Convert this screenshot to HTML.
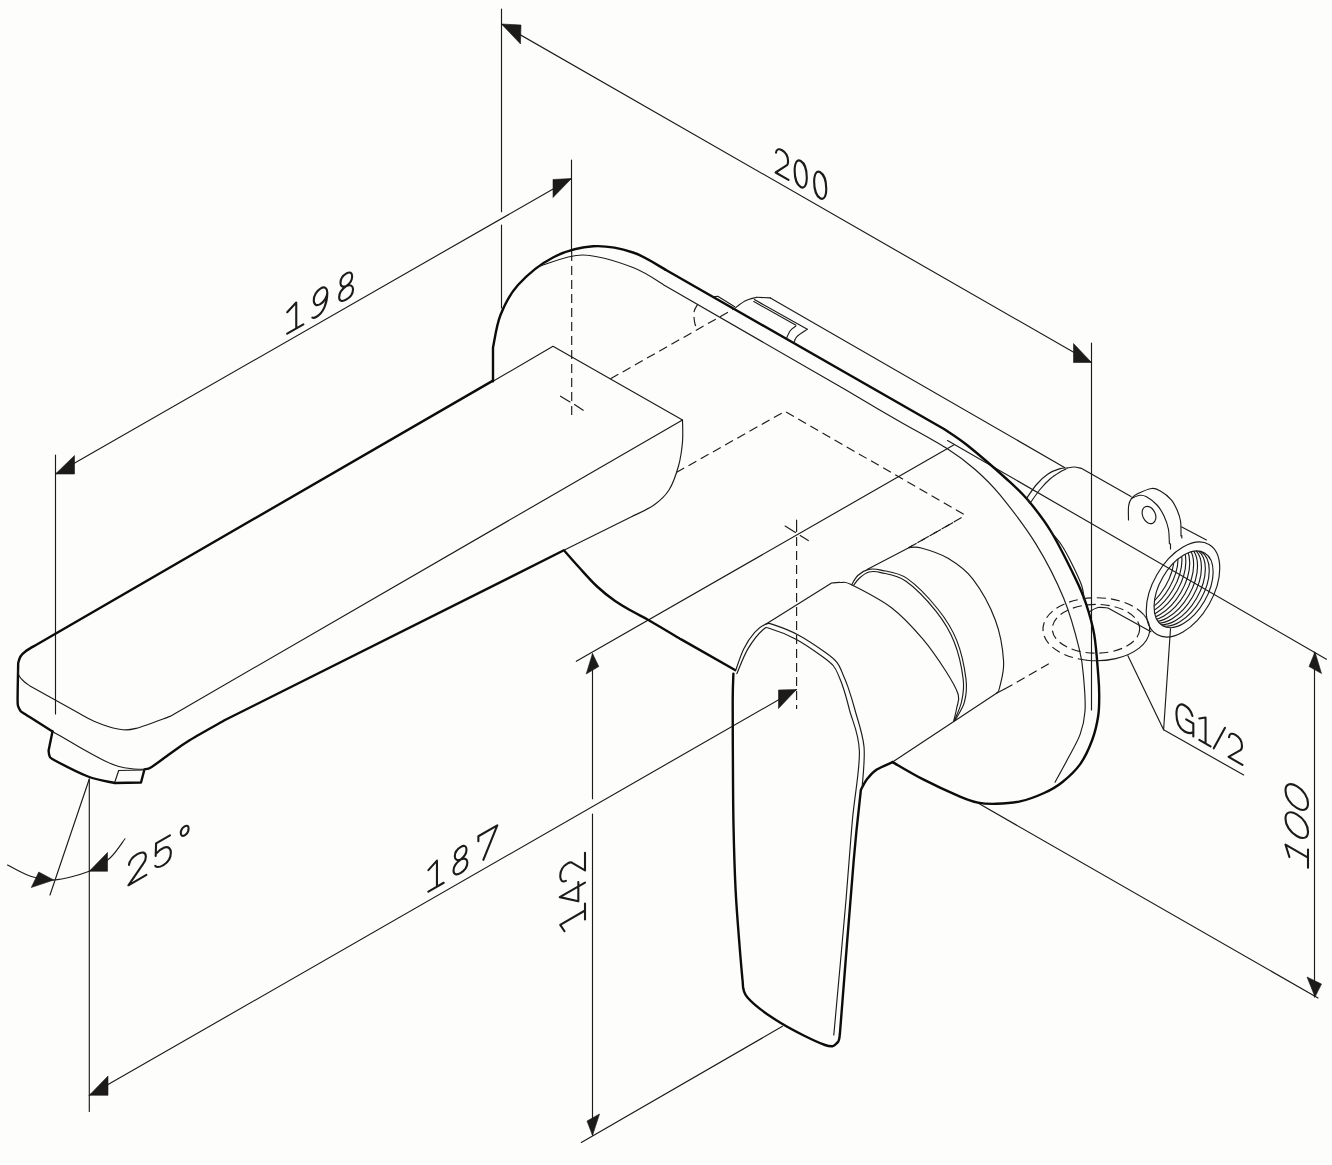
<!DOCTYPE html>
<html><head><meta charset="utf-8"><style>
html,body{margin:0;padding:0;background:#fdfdfb;}
svg{display:block}
.t{fill:none;stroke:#1c1b19;stroke-width:1.15;stroke-linecap:round;stroke-linejoin:round}
.d{fill:none;stroke:#1c1b19;stroke-width:1.15;stroke-dasharray:9 5}
.k{fill:none;stroke:#0c0c0b;stroke-width:2.4;stroke-linecap:round;stroke-linejoin:round}
.f{fill:#1c1b19;stroke:#1c1b19;stroke-width:0.6}
.g{fill:none;stroke:#1c1b19;stroke-width:2.1;stroke-linecap:round;stroke-linejoin:round}
</style></head><body>
<svg width="1332" height="1165" viewBox="0 0 1332 1165">
<path class="t" d="M501.5 9 L501.5 211.7" />
<path class="t" d="M501.5 225 L501.5 308" />
<path class="t" d="M1091.5 343 L1091.5 710" />
<path class="t" d="M501.5 24 L1091.5 362.5" />
<polygon class="f" points="501.5,24 521,25 520.5,44"/>
<polygon class="f" points="1091.5,362.5 1073.5,343.5 1073.5,362.5"/>
<path class="t" d="M571.5 160 L571.5 252" />
<path class="d" d="M571.7 252 L571.7 418" />
<path class="t" d="M55.5 455 L55.5 714" />
<path class="t" d="M55.5 474 L571.5 178.5" />
<polygon class="f" points="55.5,474 74.5,455.5 74.5,474"/>
<polygon class="f" points="571.5,178.5 553,179.5 553,197.5"/>
<path class="t" d="M89.3 779 L89.3 1111.5" />
<path class="t" d="M89.3 1095.3 L796.5 689.5" />
<polygon class="f" points="89.3,1095.3 108,1076 108,1095.3"/>
<polygon class="f" points="796.5,689.5 778.5,690 778.5,708.5"/>
<path class="t" d="M796.6 520.1 L796.6 531.6" />
<path class="d" d="M796.6 537 L796.6 709" />
<path class="t" d="M592.5 654 L592.5 798.7" />
<path class="t" d="M592.5 814.1 L592.5 1135" />
<polygon class="f" points="592.5,653.5 586.2,674 598.8,666.5"/>
<polygon class="f" points="592.5,1135.5 587,1121 599.5,1114"/>
<path class="t" d="M576.3 661.3 L954.1 444.8" />
<path class="t" d="M581.3 1142.5 L782.5 1026.3" />
<path class="t" d="M1314.5 652 L1314.5 997" />
<polygon class="f" points="1315,652 1309,666.5 1321.5,673.5"/>
<polygon class="f" points="1315,997 1307,977 1321.5,984"/>
<path class="t" d="M947.5 440.5 L1326.4 659.2" />
<path class="t" d="M975.8 801.8 L1318 998" />
<path class="t" d="M89.3 779 L50 895" />
<path class="t" d="M7.5 865 C11.25 866.83 22.29 873.5 30 876 C37.71 878.5 43.88 880.79 53.75 880 C63.62 879.21 79.88 874.92 89.25 871.25 C98.62 867.58 104.04 863.42 110 858 C115.96 852.58 122.5 841.96 125 838.75" />
<polygon class="f" points="53.75,880 31.25,887.5 38.75,872"/>
<polygon class="f" points="89.25,871.25 107.5,852.5 107.5,871.25"/>
<path class="t" d="M1127.9 655.7 L1163.6 729.8 L1243.7 775" />
<path class="t" d="M1170.5 628.7 L1163.6 729.8" />
<path class="k" d="M493 380.6 L36 645 C34.33 646 28.58 649.08 26 651 C23.42 652.92 21.8 654.5 20.5 656.5 C19.2 658.5 18.58 661.92 18.2 663 C18.1 669.17 17.57 692.67 17.6 700 C17.63 707.33 18.27 705.83 18.4 707 C18.75 707.67 19.57 709.92 20.5 711 C21.43 712.08 22.67 712.62 24 713.5 C25.33 714.38 27.75 715.83 28.5 716.3 L52.5 731.5" />
<path class="k" d="M52.5 731.5 L48.6 750.5 C48.77 751.42 48.7 754.42 49.6 756 C50.5 757.58 47.6 756.58 54 760 C60.4 763.42 77.92 772.67 88 776.5 C98.08 780.33 110.08 781.92 114.5 783 L141 782.5 L144.5 769.3 C145.7 768.9 147.45 769.5 151.7 766.9 C155.95 764.3 163.62 758.18 170 753.7 C176.38 749.22 180.83 745.62 190 740 C199.17 734.38 219.17 723.33 225 720 L563.9 550.3 C566.42 553.13 573.47 561.27 579 567.3 C584.53 573.33 591.08 580.88 597.1 586.5 C603.12 592.12 609.1 596.78 615.1 601 C621.1 605.22 627.48 608.6 633.1 611.8 C638.72 615 640.78 615.6 648.8 620.2 C656.82 624.8 675.8 636.2 681.2 639.4 L735 670" />
<path class="t" d="M17.6 671 C17.92 671.92 18.43 674.75 19.5 676.5 C20.57 678.25 22.25 679.92 24 681.5 C25.75 683.08 29 685.25 30 686 L75 711 C78.17 712.7 86.83 718.2 94 721.2 C101.17 724.2 111 727.8 118 729 C125 730.2 127.33 730.5 136 728.4 C144.67 726.3 164.33 718.4 170 716.4 L682.5 420" />
<path class="t" d="M52.5 731.5 C57.83 734.58 75.75 745.08 84.5 750 C93.25 754.92 99.42 758.3 105 761 C110.58 763.7 113.5 764.9 118 766.2 C122.5 767.5 127.58 768.28 132 768.8 C136.42 769.32 142.42 769.22 144.5 769.3" />
<path class="t" d="M118.7 770.5 L144.5 770" />
<path class="t" d="M118.7 770.5 L114.5 783" />
<path class="t" d="M493 381.3 L553 346.3 L682.5 420" />
<path class="t" d="M682.5 420 C682.5 423.67 683.17 434.33 682.5 442 C681.83 449.67 680.75 458 678.5 466 C676.25 474 673.08 483.5 669 490 C664.92 496.5 660.17 500.58 654 505 C647.83 509.42 635.67 514.58 632 516.5 L563.9 550.3" />
<path class="k" d="M493 381.3 L493 347.5 C494.25 342.08 496.33 325.42 500.5 315 C504.67 304.58 509.25 294.58 518 285 C526.75 275.42 540.5 263.95 553 257.5 C565.5 251.05 579.67 247.13 593 246.3 C606.33 245.47 620.83 248.55 633 252.5 C645.17 256.45 660.5 267.08 666 270 L944 429 C947.93 431.75 956.98 437 967.6 445.5 C978.22 454 997.58 470.82 1007.7 480 C1017.82 489.18 1021.08 492.02 1028.3 500.6 C1035.52 509.18 1043.1 518.45 1051 531.5 C1058.9 544.55 1069.87 566.88 1075.7 578.9 C1081.53 590.92 1082.92 594.33 1086 603.6 C1089.08 612.87 1092.15 622.48 1094.2 634.5 C1096.25 646.52 1097.47 665.62 1098.3 675.7 C1099.13 685.78 1099.22 688.28 1099.2 695 C1099.18 701.72 1099.37 708.5 1098.2 716 C1097.03 723.5 1095.2 731.98 1092.2 740 C1089.2 748.02 1085.2 757.07 1080.2 764.1 C1075.2 771.13 1068.22 777.38 1062.2 782.2 C1056.18 787.02 1051.12 789.8 1044.1 793 C1037.08 796.2 1028.1 799.6 1020.1 801.4 C1012.1 803.2 1003.12 803.6 996.1 803.8 C989.08 804 984.02 803.8 978 802.6 C971.98 801.4 969.22 800.52 960 796.6 C950.78 792.68 933.93 784.85 922.7 779.1 C911.47 773.35 897.62 764.93 892.6 762.1" />
<path class="t" d="M540 266 C547.17 264.17 567.5 254.75 583 255 C598.5 255.25 619.17 262.28 633 267.5 C646.83 272.72 660.5 283.17 666 286.3 L846 390 C854.5 395 879.98 410.12 897 420 C914.02 429.88 935.08 441.05 948.1 449.3 C961.12 457.55 966.45 461.9 975.1 469.5 C983.75 477.1 989.85 482.47 1000 494.9 C1010.15 507.33 1025.38 526.87 1036 544.1 C1046.62 561.33 1056.45 580.67 1063.7 598.3 C1070.95 615.93 1076.15 636.28 1079.5 649.9 C1082.85 663.52 1082.88 669.77 1083.8 680 C1084.72 690.23 1085.6 702.28 1085 711.3 C1084.4 720.32 1083 726.3 1080.2 734.1 C1077.4 741.9 1072.4 750.08 1068.2 758.1 C1064 766.12 1057.2 778.18 1055 782.2" />
<path class="t" d="M1051 532 C1052.75 534.17 1058.17 540 1061.5 545 C1064.83 550 1067.67 555.33 1071 562 C1074.33 568.67 1079.25 578.5 1081.5 585 C1083.75 591.5 1084 598.33 1084.5 601" />
<path class="t" d="M770.4 297.9 L1064.5 467.5" />
<path class="t" d="M1067.3 468 C1068.42 467.83 1071.6 466.93 1074 467 C1076.4 467.07 1080.42 468.17 1081.7 468.4 L1131 496.5" />
<path class="t" d="M1181.8 526.9 L1206.4 540" />
<path class="t" d="M1026.4 498.5 C1028.17 496.08 1033.4 488.08 1037 484 C1040.6 479.92 1044.17 476.57 1048 474 C1051.83 471.43 1056.78 469.6 1060 468.6 C1063.22 467.6 1066.08 468.1 1067.3 468" />
<path class="t" d="M1030 503.3 C1031.67 501 1036.67 493.55 1040 489.5 C1043.33 485.45 1046.67 481.92 1050 479 C1053.33 476.08 1057.33 473.67 1060 472 C1062.67 470.33 1065 469.5 1066 469" />
<path class="t" d="M1026.4 498.5 L1030 503.3" />
<path class="t" d="M1089 612 C1090.5 611.25 1094.83 608.17 1098 607.5 C1101.17 606.83 1106.33 607.92 1108 608 L1151 631.7" />
<path class="t" d="M1128.5 520 C1128.52 517.67 1128.1 509.62 1128.6 506 C1129.1 502.38 1130.02 500.33 1131.5 498.3 C1132.98 496.27 1134.12 495.43 1137.5 493.8 C1140.88 492.17 1148.05 489 1151.8 488.5 C1155.55 488 1156.75 488.92 1160 490.8 C1163.25 492.68 1168.38 496.43 1171.3 499.8 C1174.22 503.17 1175.95 507.38 1177.5 511 C1179.05 514.62 1180.02 517.33 1180.6 521.5 C1181.18 525.67 1180.93 533.58 1181 536" />
<path class="t" d="M1131.5 498.3 C1132.88 497.8 1137.3 495.55 1139.8 495.3 C1142.3 495.05 1143.63 495.18 1146.5 496.8 C1149.37 498.42 1154.08 501.8 1157 505 C1159.92 508.2 1162.1 512 1164 516 C1165.9 520 1167.5 524.38 1168.4 529 C1169.3 533.62 1169.23 541.25 1169.4 543.7" />
<ellipse class="t" cx="1149" cy="515" rx="6.3" ry="9" transform="rotate(-25 1149 515)"/>
<ellipse class="t" cx="1183" cy="589.5" rx="52" ry="30" transform="rotate(-60 1183 589.5)"/>
<ellipse class="t" cx="1183.6" cy="589.3" rx="42" ry="24" transform="rotate(-60 1183.6 589.3)"/>
<defs><clipPath id="thc"><ellipse cx="1183.6" cy="589.3" rx="42" ry="24" transform="rotate(-60 1183.6 589.3)"/></clipPath></defs>
<g clip-path="url(#thc)"><ellipse class="t" cx="1179.7" cy="587.8" rx="42" ry="24" transform="rotate(-60 1179.7 587.8)"/><ellipse class="t" cx="1175.8" cy="586.3" rx="42" ry="24" transform="rotate(-60 1175.8 586.3)"/><ellipse class="t" cx="1171.9" cy="584.8" rx="42" ry="24" transform="rotate(-60 1171.9 584.8)"/><ellipse class="t" cx="1168" cy="583.3" rx="42" ry="24" transform="rotate(-60 1168 583.3)"/><ellipse class="t" cx="1164.1" cy="581.8" rx="42" ry="24" transform="rotate(-60 1164.1 581.8)"/><ellipse class="t" cx="1160.2" cy="580.3" rx="42" ry="24" transform="rotate(-60 1160.2 580.3)"/><ellipse class="t" cx="1156.3" cy="578.8" rx="42" ry="24" transform="rotate(-60 1156.3 578.8)"/><ellipse class="t" cx="1152.4" cy="577.3" rx="42" ry="24" transform="rotate(-60 1152.4 577.3)"/><ellipse class="t" cx="1148.5" cy="575.8" rx="42" ry="24" transform="rotate(-60 1148.5 575.8)"/><ellipse class="t" cx="1144.6" cy="574.3" rx="42" ry="24" transform="rotate(-60 1144.6 574.3)"/></g>
<path class="t" d="M1170.5 543.8 L1170.5 549" />
<path class="t" d="M1181.8 535.5 L1181.8 538" />
<path class="t" d="M1144,615 A53.4,31.5 0 0,1 1086.6,660.2"/>
<path class="d" d="M1086.6,660.2 A53.4,31.5 0 1,1 1144,615"/>
<ellipse class="d" cx="1096" cy="628.8" rx="43.7" ry="24.4"/>
<path class="t" d="M734.7 308.4 C736.42 307.17 741.33 302.85 745 301 C748.67 299.15 754.75 297.92 756.7 297.3" />
<path class="t" d="M756.7 297.3 L770.4 297.9" />
<path class="t" d="M754.4 299.6 L807.3 329.3" />
<path class="t" d="M753.8 301.6 L796 325.2" />
<path class="t" d="M807.2 329.4 C805.45 330.63 798.9 334.53 796.7 336.8 C794.5 339.07 794.45 341.97 794 343" />
<path class="t" d="M795.6 326.3 C794.73 327 791.97 328.4 790.4 330.5 C788.83 332.6 786.9 337.5 786.2 338.9" />
<path class="t" d="M712.6 296.8 L717.8 296.3 L734.7 306.8" />
<path class="d" d="M697.9 304 C697.25 305.33 694.48 308.67 694 312 C693.52 315.33 694.35 321.27 695 324 C695.65 326.73 697.42 327.67 697.9 328.4" />
<path class="d" d="M676.3 472.5 L785 411.3 L965.4 515.3" />
<path class="d" d="M961.6 517.6 L909 547.6" />
<path class="d" d="M610.5 378.8 L734.7 308.4" />
<path class="t" d="M765.7 624.2 L831.6 583 C833.13 582.92 837.47 582.2 840.8 582.5 C844.13 582.8 843.1 580.55 851.6 584.8 C860.1 589.05 879.95 598.98 891.8 608 C903.65 617.02 913.68 628.35 922.7 638.9 C931.72 649.45 939.98 662.03 945.9 671.3 C951.82 680.57 956.4 688.38 958.2 694.5 C960 700.62 957.47 703.5 956.7 708 C955.93 712.5 954.12 719.25 953.6 721.5" />
<path class="t" d="M851.6 584.8 C852.63 583.25 854.97 578.07 857.8 575.5 C860.63 572.93 864.73 570.3 868.6 569.4 C872.47 568.5 874.55 568.57 881 570.1 C887.45 571.63 897.77 572.03 907.3 578.6 C916.83 585.17 929.97 599.2 938.2 609.5 C946.43 619.8 952.07 628.8 956.7 640.4 C961.33 652 964.72 668.8 966 679.1 C967.28 689.4 966.2 695.38 964.4 702.2 C962.6 709.02 956.73 717.03 955.2 720" />
<path class="t" d="M853.5 585.5 C854.55 584.22 857.22 580.05 859.8 577.8 C862.38 575.55 865.47 572.87 869 572 C872.53 571.13 874.83 571.07 881 572.6 C887.17 574.13 896.78 574.7 906 581.2 C915.22 587.7 928.27 601.47 936.3 611.6 C944.33 621.73 949.72 630.73 954.2 642 C958.68 653.27 961.97 669.28 963.2 679.2 C964.43 689.12 963.07 694.62 961.6 701.5 C960.13 708.38 955.6 717.33 954.4 720.5" />
<path class="t" d="M867.1 569.4 L908.8 547.7" />
<path class="t" d="M908.8 547.7 C910.87 547.75 914.67 546.23 921.2 548 C927.73 549.77 939.42 553.15 948 558.3 C956.58 563.45 964.82 568.62 972.7 578.9 C980.58 589.18 990.15 606.27 995.3 620 C1000.45 633.73 1002.9 649.97 1003.6 661.3 C1004.3 672.63 1000.62 682.72 999.5 688 C998.38 693.28 997.33 692.17 996.9 693" />
<path class="t" d="M996.9 693 L892.6 762.1" />
<path class="t" d="M996.9 693 L1004.6 689.1" />
<path class="d" d="M1004.6 689.1 L1048.8 663.8" />
<path class="d" d="M908.8 547.7 L957.5 520" />
<path class="t" d="M560.5 396.2 L570 402" />
<path class="t" d="M574.5 404.5 L583.2 410.3" />
<path class="t" d="M785.1 526 L795.5 532.4" />
<path class="t" d="M800.2 535.5 L808.3 540.6" />
<path class="k" d="M733.4 673.6 C733.28 678 732.78 685.6 732.7 700 C732.62 714.4 732.77 739.17 732.9 760 C733.03 780.83 733.05 803.33 733.5 825 C733.95 846.67 734.6 870 735.6 890 C736.6 910 738.35 930 739.5 945 C740.65 960 742 974.17 742.5 980 C743.33 982.92 741.25 990.42 747.5 997.5 C753.75 1004.58 767.08 1014.58 780 1022.5 C792.92 1030.42 815.42 1041.67 825 1045 C834.58 1048.33 835 1044.58 837.5 1042.5 C840 1040.42 839.58 1034.17 840 1032.5 C842.29 1003.75 850.27 900.43 853.75 860 C857.23 819.57 859.71 801.58 860.9 789.9 C861.93 788.1 864.52 782.45 867.1 779.1 C869.68 775.75 872.15 772.63 876.4 769.8 C880.65 766.97 889.9 763.38 892.6 762.1" />
<path class="t" d="M735.5 670.9 C736.87 667.23 740.5 655.32 743.7 648.9 C746.9 642.48 751.03 636.52 754.7 632.4 C758.37 628.28 762.48 625.45 765.7 624.2 C768.92 622.95 768.5 623.07 774 624.9 C779.5 626.73 790 630.52 798.7 635.2 C807.4 639.88 819.8 648.43 826.2 653 C832.6 657.57 834.37 659.17 837.1 662.6 C839.83 666.03 840.77 669.47 842.6 673.6 C844.43 677.73 846.03 681.33 848.1 687.4 C850.17 693.47 852.35 700.13 855 710 C857.65 719.87 862.8 733.77 864 746.6 C865.2 759.43 862.5 780.27 862.2 787" />
<path class="t" d="M736.9 673.6 C738.73 669.48 743.55 656.22 747.9 648.9 C752.25 641.58 759.12 633.02 763 629.7 C766.88 626.38 765.7 627.4 771.2 629 C776.7 630.6 787.37 634.63 796 639.3 C804.63 643.97 816.75 652.55 823 657 C829.25 661.45 830.83 662.75 833.5 666 C836.17 669.25 837.25 672.5 839 676.5 C840.75 680.5 842.25 684.42 844 690 C845.75 695.58 846.93 699.78 849.5 710 C852.07 720.22 858.92 732.97 859.4 751.3 C859.88 769.63 854.63 795.22 852.4 820 C850.17 844.78 849.1 864.17 846 900 C842.9 935.83 835.83 1012.5 833.8 1035" />
<path class="g" d="M287.20 333.70 L303.39 324.35 M296.25 328.47 L296.25 302.47 L287.20 312.20"/>
<path class="g" d="M327.31 292.54 C327.31 288.04 324.51 286.16 320.77 288.32 C316.56 290.75 313.75 295.87 313.75 300.37 C313.75 304.87 316.56 306.25 320.30 304.09 C324.51 301.66 327.31 296.54 327.31 292.54 C327.31 303.54 323.10 312.97 316.56 316.75 C314.69 317.83 313.28 318.14 312.35 317.68"/>
<path class="g" d="M346.52 285.95 C342.62 287.70 340.46 285.95 340.46 282.95 C340.46 279.45 343.06 275.45 346.52 273.45 C349.99 271.45 352.15 272.70 352.15 276.20 C352.15 279.20 350.42 283.20 346.52 285.95 C342.19 288.95 339.16 293.70 339.16 297.20 C339.16 301.20 342.19 301.95 346.09 299.70 C349.99 297.45 353.02 293.20 353.02 289.20 C353.02 285.70 350.42 284.20 346.52 285.95 Z"/>
<path class="g" d="M428.40 891.60 L443.71 882.76 M436.96 886.66 L436.96 860.66 L428.40 870.10"/>
<path class="g" d="M460.88 859.35 C456.98 861.10 454.81 859.35 454.81 856.35 C454.81 852.85 457.41 848.85 460.88 846.85 C464.34 844.85 466.50 846.10 466.50 849.60 C466.50 852.60 464.77 856.60 460.88 859.35 C456.54 862.35 453.51 867.10 453.51 870.60 C453.51 874.60 456.54 875.35 460.44 873.10 C464.34 870.85 467.37 866.60 467.37 862.60 C467.37 859.10 464.77 857.60 460.88 859.35 Z"/>
<path class="g" d="M478.37 841.25 L478.37 836.25 L497.29 825.33 L483.35 859.88"/>
<path class="g" d="M128.96 864.97 C129.53 860.65 132.90 856.70 137.41 854.10 C142.47 851.17 145.85 852.22 145.85 856.72 C145.85 859.72 144.72 861.88 143.26 863.72 L128.40 885.30 L146.41 874.90"/>
<path class="g" d="M156.11 843.30 L169.97 835.30 M156.11 843.30 L155.68 856.05 M155.94 853.90 C158.71 850.80 161.74 848.55 164.34 847.55 C168.67 846.05 170.83 848.80 170.83 852.80 C170.83 857.80 167.80 862.55 163.47 865.05 C159.58 867.30 156.55 867.55 155.25 865.80"/>
<path class="g" d="M184.69 826.30 C187.11 824.90 188.59 826.05 188.59 828.55 C188.59 831.05 187.11 833.90 184.69 835.30 C182.27 836.70 180.79 835.55 180.79 833.05 C180.79 830.55 182.27 827.70 184.69 826.30 Z"/>
<path class="g" d="M776.00 152.73 C776.41 148.97 778.82 148.36 782.04 150.22 C785.67 152.31 788.08 156.71 788.08 161.21 C788.08 164.21 787.28 165.24 786.23 165.64 L775.60 172.50 L788.49 179.94"/>
<path class="g" d="M794.65 170.50 C794.65 162.50 797.25 159.00 800.71 161.00 C804.18 163.00 806.78 169.50 806.78 177.50 C806.78 185.50 804.18 189.00 800.71 187.00 C797.25 185.00 794.65 178.50 794.65 170.50 Z"/>
<path class="g" d="M814.14 181.75 C814.14 173.75 816.74 170.25 820.20 172.25 C823.66 174.25 826.26 180.75 826.26 188.75 C826.26 196.75 823.66 200.25 820.20 198.25 C816.74 196.25 814.14 189.75 814.14 181.75 Z"/>
<path class="g" d="M1192.45 716.00 C1191.15 711.25 1188.12 707.50 1184.66 705.50 C1179.46 702.50 1176.43 706.25 1176.43 713.75 C1176.43 721.75 1179.46 728.50 1184.66 731.50 C1188.12 733.50 1190.72 733.50 1192.89 732.25 M1186.13 719.35 L1193.32 723.50 L1193.32 736.50"/>
<path class="g" d="M1199.30 739.95 L1210.48 746.41 M1205.55 743.56 L1205.55 717.56 L1199.30 718.45"/>
<path class="g" d="M1213.76 748.30 L1225.02 727.80"/>
<path class="g" d="M1229.00 737.10 C1229.43 733.35 1232.03 732.85 1235.49 734.85 C1239.39 737.10 1241.99 741.60 1241.99 746.10 C1241.99 749.10 1241.12 750.10 1240.00 750.45 L1228.57 756.85 L1242.42 764.85"/>
<path class="g" d="M585.00 919.40 L585.00 903.50 M585.00 910.52 L560.23 924.82 L564.52 931.23"/>
<path class="g" d="M585.00 882.55 L559.76 897.12 L578.33 901.25 L578.33 882.00"/>
<path class="g" d="M565.95 880.90 C562.14 882.55 560.23 880.35 560.23 875.95 C560.23 871.00 563.09 866.05 567.38 863.57 C570.23 861.92 571.66 862.20 572.62 863.08 L585.00 870.45 L585.00 852.85"/>
<path class="g" d="M1308.00 867.80 L1308.00 849.44 M1308.00 857.54 L1285.48 844.54 L1289.38 857.05"/>
<path class="g" d="M1296.74 836.00 C1289.81 832.00 1285.48 824.85 1285.48 818.65 C1285.48 812.45 1289.81 810.30 1296.74 814.30 C1303.67 818.30 1308.00 825.45 1308.00 831.65 C1308.00 837.85 1303.67 840.00 1296.74 836.00 Z"/>
<path class="g" d="M1296.74 807.90 C1289.81 803.90 1285.48 796.75 1285.48 790.55 C1285.48 784.35 1289.81 782.20 1296.74 786.20 C1303.67 790.20 1308.00 797.35 1308.00 803.55 C1308.00 809.75 1303.67 811.90 1296.74 807.90 Z"/>
</svg></body></html>
